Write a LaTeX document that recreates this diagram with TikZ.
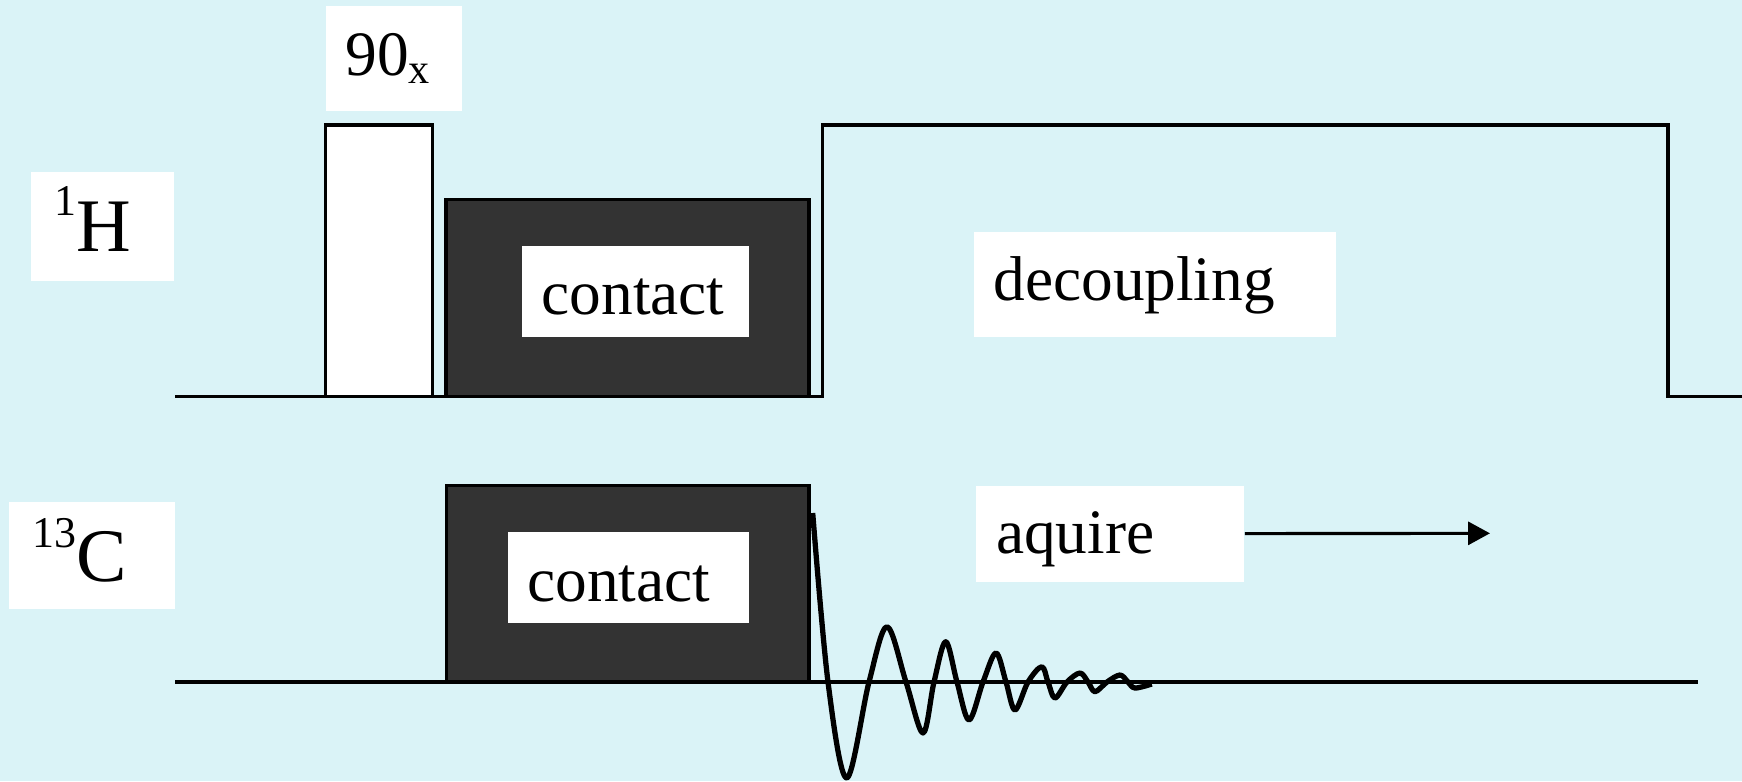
\documentclass[tikz,border=0pt]{standalone}
\usepackage{fontspec}
\setmainfont{Liberation Serif}
\usetikzlibrary{arrows.meta}
\definecolor{bgcyan}{RGB}{218,243,247}
\definecolor{darkbox}{RGB}{51,51,51}
\newcommand{\supiso}[3]{\raisebox{#1}{\fontsize{12.5}{12.5}\selectfont #2}#3}

\begin{document}
\begin{tikzpicture}[x=0.01cm, y=-0.01cm,
    tag/.style={fill=white, inner xsep=5.6pt, inner ysep=0pt, align=left,
        text depth=0pt, font=\fontsize{18}{20}\selectfont},
    spin/.style={tag, inner xsep=6.8pt, font=\fontsize{21.5}{24}\selectfont},
    trace/.style={line width=0.9pt, line join=miter},
    block/.style={draw, line width=1pt, fill=darkbox},
    fid/.style={line width=1.5pt, line join=round}]
    \fill[bgcyan] (0,0) rectangle (1742,781);
    \useasboundingbox (0,0) rectangle (1742,781);

    % proton channel
    \draw[trace] (175,396.5) -- (822.7,396.5) |- (1668,125) -- (1668,396.5) -- (1742,396.5);
    \draw[trace, fill=white] (325.5,396.5) rectangle (432.7,125);
    \draw[block] (446,396.5) rectangle (809,199.3);

    % carbon channel
    \draw[trace] (175,682) -- (1697.5,682);
    \draw[block] (446.6,682) rectangle (809,485.3);
    \draw[fid] plot[smooth, tension=0.55] coordinates {
        (812.7,513) (828,682) (846.7,778) (869,682) (887,626.7) (906,682)
        (923,733) (934,682) (945.7,641.7) (957,682) (969,720) (983,682)
        (996,653) (1006,682) (1015,710) (1028,682) (1041.7,666.7) (1048,682)
        (1055,698) (1067,682) (1080,673) (1088,682) (1095,691.7) (1107,682)
        (1120,675) (1128,682) (1135,688) (1151.7,684)};

    % labels
    \node[spin, text width=27.1pt, minimum height=30.9pt, text height=14.1pt] (H) at (102.5,226.4)
        {\supiso{10.1pt}{1}{H}};
    \node[spin, text width=33.6pt, minimum height=30.4pt, text height=14.6pt] (C) at (92,555.6)
        {\supiso{9.6pt}{13}{C}};
    \node[tag, text width=27.5pt, minimum height=29.8pt, text height=9.6pt] (P) at (394,58.3)
        {90\raisebox{-2.3pt}{\fontsize{12}{12}\selectfont x}};
    \node[tag, text width=53.4pt, minimum height=25.8pt, text height=13.1pt] (cpH) at (635.5,291.4) {contact};
    \node[tag, text width=57.5pt, minimum height=25.8pt, text height=13.9pt] (cpC) at (628.4,577.3) {contact};
    \node[tag, text width=91.7pt, minimum height=29.9pt, text height=9.3pt] (dec) at (1154.75,284.2) {decoupling};
    \node[tag, text width=64.9pt, minimum height=27.2pt, text height=11.1pt] (aq) at (1110.25,533.8) {aquire};

    \coordinate (aqend) at (1490,533.3);
    \draw[trace, -{Triangle[length=6.2pt, width=6.5pt]}] (aq) -- (aqend);
\end{tikzpicture}
\end{document}
